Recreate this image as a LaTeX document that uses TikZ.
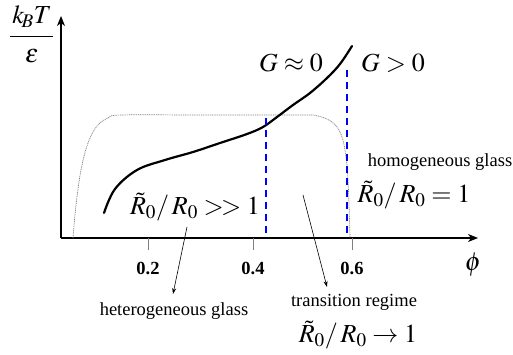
\documentclass[tikz,border=0pt]{standalone}
\usepackage{mathptmx}
\usepackage{fontspec}
\setmainfont{Liberation Serif}
\usetikzlibrary{arrows.meta}
\begin{document}
\begin{tikzpicture}[x=1pt,y=-1pt,
  axis/.style={line width=1.4pt,-{Stealth[length=10pt,width=8pt,inset=3pt]}},
  curve/.style={line width=2.2pt,line cap=round},
  envelope/.style={gray,line width=0.7pt,dash pattern=on 1pt off 0.8pt},
  boundary/.style={blue,line width=1.8pt,dash pattern=on 7pt off 5pt},
  tickmark/.style={gray,line width=0.8pt},
  pointer/.style={line width=0.6pt,-{Stealth[length=6pt,width=4pt]}},
  small/.style={inner sep=0pt,font=\fontsize{18.5}{22}\selectfont},
  ticklabel/.style={inner sep=0pt,font=\fontsize{18.5}{22}\selectfont\bfseries},
  big/.style={inner sep=0pt,font=\fontsize{26}{30}\selectfont},
]
\useasboundingbox (0,0) rectangle (513,355);
\fill[white] (0,0) rectangle (513,355);

% axes
\coordinate (O) at (61,238);
\coordinate (ytip) at (61,16);
\coordinate (xtip) at (478,238);
\draw[axis] (O) -- (ytip);
\draw[axis] (O) -- (xtip);

% ticks
\foreach \x/\l/\i in {148/0.2/a,253/0.4/b,352/0.6/c}{
  \coordinate (t\i) at (\x,238);
  \coordinate (b\i) at (\x,250);
  \draw[tickmark] (t\i) -- (b\i);
  \node[ticklabel] (L\i) at (\x,268) {\l};
}

% envelope (dotted)
\draw[envelope] plot[smooth,tension=0.6] coordinates {
 (73,238) (76,205) (81,170) (88,143) (97,126) (108,118) (122,115) (200,115) (300,115)
 (318,116) (332,122) (340,132) (345,150) (348,180) (350,238)};

% main curve
\draw[curve] plot[smooth,tension=0.6] coordinates {
 (104,213) (115,189) (137,170) (165,160) (193,152) (220,143) (247,134) (263,127)
 (277,117) (293,105) (310,93) (327,78) (340,64) (352,46)};

% boundaries
\coordinate (d1t) at (266,118);
\coordinate (d1b) at (266,238);
\coordinate (d2t) at (347,70);
\coordinate (d2b) at (347,238);
\draw[boundary] (d1t) -- (d1b);
\draw[boundary] (d2t) -- (d2b);

% y label
\node[big] (kT) at (32,17) {$k_{\!B}T$};
\coordinate (barl) at (10,37);
\coordinate (barr) at (53,37);
\draw[line width=1pt] (barl) -- (barr);
\node[big] (eps) at (32,56) {$\varepsilon$};

% phi
\node[big] (phi) at (473,265) {$\phi$};

% region labels
\node[big] (G0) at (291,63) {$G\approx 0$};
\node[big] (Gp) at (393,63) {$G>0$};
\node[big] (Rhet) at (195,207) {$\tilde{R}_0/\,R_0 >\!>1$};
\node[small] (homo) at (440,162) {homogeneous glass};
\node[big] (Rhom) at (414,195) {$\tilde{R}_0/\,R_0 =1$};
\node[small] (het) at (174,311) {heterogeneous glass};
\node[small] (trans) at (354,302) {transition regime};
\node[big] (Rtr) at (358,335) {$\tilde{R}_0/\,R_0 \to 1$};

% pointers
\coordinate (p1s) at (187,227);
\coordinate (p1e) at (173,294);
\draw[pointer] (p1s) -- (p1e);
\coordinate (p2s) at (303,195);
\coordinate (p2e) at (327,287);
\draw[pointer] (p2s) -- (p2e);
\end{tikzpicture}
\end{document}
